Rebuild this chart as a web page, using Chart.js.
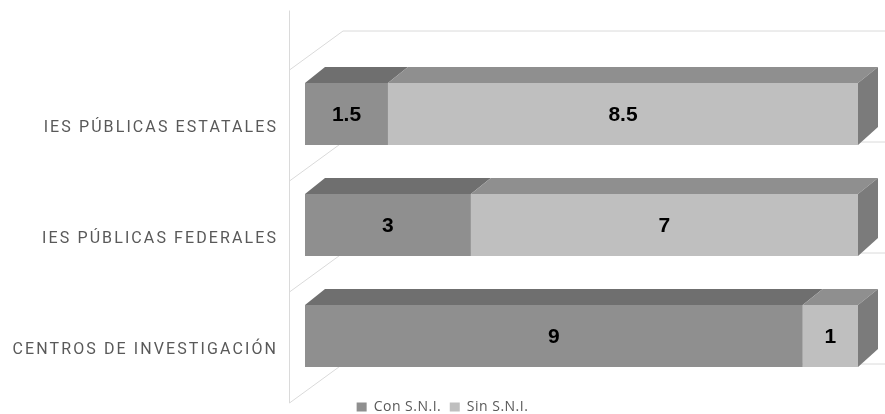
<!DOCTYPE html>
<html><head><meta charset="utf-8">
<script src="https://cdn.jsdelivr.net/npm/chart.js@4"></script>
<style>html,body{margin:0;padding:0;background:#fff;overflow:hidden}</style>
</head><body>
<canvas id="c" width="885" height="414"></canvas>
<script>
// ---- data ----
const categories = ['IES PÚBLICAS ESTATALES', 'IES PÚBLICAS FEDERALES', 'CENTROS DE INVESTIGACIÓN'];
const seriesNames = ['Con S.N.I.', 'Sin S.N.I.'];
const conSNI = [1.5, 3, 9];
const sinSNI = [8.5, 7, 1];
const axisMin = 0;
const axisMax = 10;

// ---- styles ----
const frontColors = ['#8f8f8f', '#bfbfbf'];
const topColors = ['#6f6f6f', '#8f8f8f'];
const sideColor = '#7b7b7b';
const wallColor = '#dadada';
const depthX = 20, depthY = 16;

const threeD = {
  id: 'threeD',
  beforeLayout(chart) { chart.ctx.letterSpacing = '0.5px'; },
  afterLayout(chart) { chart.ctx.letterSpacing = '0px'; },
  beforeDraw(chart) { chart.ctx.letterSpacing = '0.5px'; },
  beforeDatasetsDraw(chart) {
    const {ctx, chartArea: ca, scales: {y}} = chart;
    ctx.letterSpacing = '0px';
    const step = y.getPixelForValue(1) - y.getPixelForValue(0);
    const fx = ca.left - 16, bx = ca.left + 38;
    ctx.save();
    ctx.strokeStyle = wallColor;
    ctx.lineWidth = 1;
    const n = categories.length;
    ctx.beginPath();
    ctx.moveTo(fx + 0.5, ca.top - 48);
    ctx.lineTo(fx + 0.5, ca.top + n * step + 11.5);
    for (let k = 0; k <= n; k++) {
      const yb = ca.top + k * step;
      ctx.moveTo(fx + 0.5, yb + 11.5);
      ctx.lineTo(bx, yb - 27.5);
      ctx.lineTo(chart.width, yb - 27.5);
    }
    ctx.stroke();
    ctx.restore();
  },
  afterDatasetsDraw(chart) {
    const {ctx} = chart;
    ctx.save();
    const metas = chart.data.datasets.map((d, i) => chart.getDatasetMeta(i));
    metas.forEach((meta, di) => {
      meta.data.forEach((bar, j) => {
        const p = bar.getProps(['x', 'y', 'base', 'height'], true);
        const x0 = Math.min(p.base, p.x), x1 = Math.max(p.base, p.x);
        const top = p.y - p.height / 2, bot = p.y + p.height / 2;
        ctx.fillStyle = topColors[di];
        ctx.beginPath();
        ctx.moveTo(x0, top); ctx.lineTo(x1, top);
        ctx.lineTo(x1 + depthX, top - depthY); ctx.lineTo(x0 + depthX, top - depthY);
        ctx.closePath(); ctx.fill();
        if (di === metas.length - 1) {
          ctx.fillStyle = sideColor;
          ctx.beginPath();
          ctx.moveTo(x1, top); ctx.lineTo(x1 + depthX, top - depthY);
          ctx.lineTo(x1 + depthX, bot - depthY - 2); ctx.lineTo(x1, bot);
          ctx.closePath(); ctx.fill();
        }
      });
    });
    // data labels
    ctx.fillStyle = '#000';
    ctx.font = 'bold 21px "Liberation Sans", Arial, sans-serif';
    ctx.textAlign = 'center';
    ctx.textBaseline = 'middle';
    metas.forEach((meta, di) => {
      const vals = chart.data.datasets[di].data;
      meta.data.forEach((bar, j) => {
        const p = bar.getProps(['x', 'y', 'base'], true);
        ctx.fillText(String(vals[j]), (p.x + p.base) / 2, p.y + 1.5);
      });
    });
    ctx.restore();
    ctx.letterSpacing = '2.1px';
  },
  afterDraw(chart) { chart.ctx.letterSpacing = '0px'; }
};

const chart = new Chart(document.getElementById('c'), {
  type: 'bar',
  data: {
    labels: categories,
    datasets: [
      {label: seriesNames[0], data: conSNI, backgroundColor: frontColors[0]},
      {label: seriesNames[1], data: sinSNI, backgroundColor: frontColors[1]}
    ]
  },
  options: {
    indexAxis: 'y',
    responsive: false,
    animation: false,
    categoryPercentage: 1,
    barPercentage: 0.56,
    layout: {padding: {left: 0, right: 0, top: 58.5, bottom: -10}},
    scales: {
      x: {stacked: true, min: axisMin, max: axisMax, display: false},
      y: {
        stacked: true,
        grid: {display: false, drawTicks: false},
        border: {display: false},
        afterFit(scale) {
          scale.width = 305;
          scale.paddingTop = 0;
          scale.paddingBottom = 0;
        },
        ticks: {
          z: 1,
          padding: 27,
          labelOffset: 14,
          color: '#595959',
          font: {family: 'Roboto', size: 16}
        }
      },
      yDepth: {
        axis: 'y',
        type: 'category',
        position: 'right',
        grid: {display: false, drawTicks: false},
        border: {display: false},
        ticks: {display: false},
        afterFit(scale) {
          scale.width = 27;
          scale.paddingTop = 0;
          scale.paddingBottom = 0;
        }
      }
    },
    plugins: {
      tooltip: {enabled: false},
      legend: {
        position: 'bottom',
        labels: {
          boxWidth: 10, boxHeight: 9, padding: 8.5,
          color: '#595959',
          font: {family: '"Open Sans"', size: 14}
        }
      }
    }
  },
  plugins: [threeD]
});

Promise.all([
  document.fonts.load('14px "Open Sans"'),
  document.fonts.load('16px Roboto'),
  document.fonts.load('bold 21px "Liberation Sans"')
]).then(() => chart.update()).catch(() => chart.update());
</script>
</body></html>
